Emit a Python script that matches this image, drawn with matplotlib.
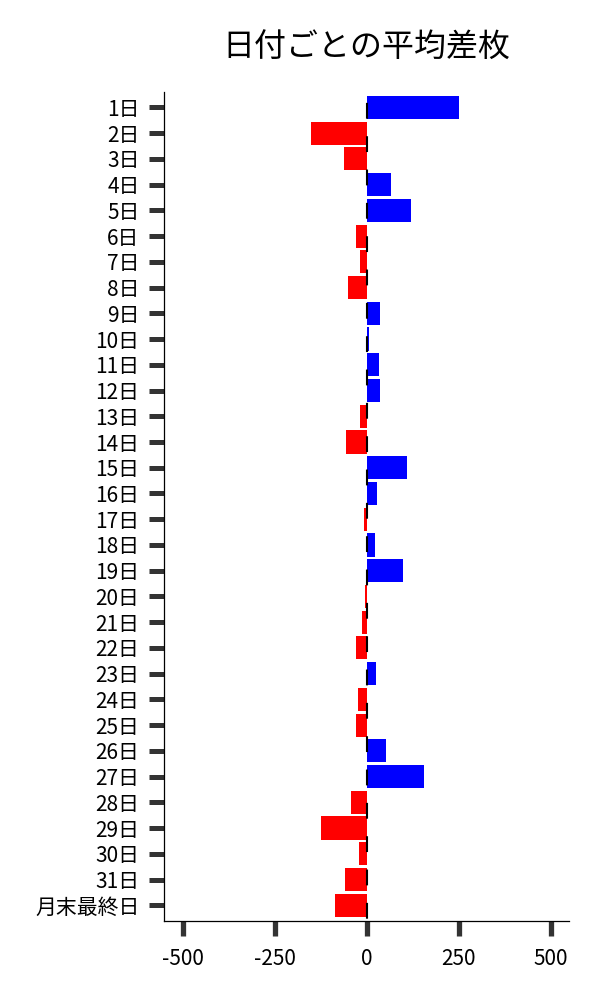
import matplotlib
matplotlib.use("Agg")
import matplotlib.pyplot as plt

plt.rcParams['font.family'] = ['Noto Sans CJK JP', 'DejaVu Sans']

days = [f"{i}日" for i in range(1, 32)] + ["月末最終日"]
values = [250, -152, -62, 65, 119, -30, -19, -52, 35, 6,
          32, 37, -19, -57, 110, 27, -8, 22, 97, -4,
          -12, -30, 24, -24, -30, 53, 154, -43, -125, -22,
          -60, -87]
xticks = [-500, -250, 0, 250, 500]
xticklabels = ["-500", "-250", "0", "250", "500"]
title = "日付ごとの平均差枚"

colors = ["#0000ff" if v >= 0 else "#ff0000" for v in values]

fig = plt.figure(figsize=(6, 10), dpi=100)
ax = fig.add_axes([0.2738, 0.0793, 0.6745, 0.8287])

pos = list(range(len(days)))
ax.barh(pos, values, height=0.9, color=colors, zorder=2)
ax.axvline(0, color="black", lw=1.5, linestyle=(14.9, (7.6, 8.4)), zorder=3)

ax.set_ylim(len(days) - 1 + 0.6, -0.6)
ax.set_xlim(-550, 549)
ax.set_yticks(pos)
ax.set_yticklabels(days)
ax.set_xticks(xticks)
ax.set_xticklabels(xticklabels)

for s in ["top", "right"]:
    ax.spines[s].set_visible(False)
for s in ["left", "bottom"]:
    ax.spines[s].set_linewidth(0.9)
    ax.spines[s].set_color("black")

ax.tick_params(axis="y", length=10.8, width=3.6, color="#333333", pad=7, labelsize=15)
ax.tick_params(axis="x", length=10.5, width=3.8, color="#333333", pad=9, labelsize=15)

fig.text(0.611, 0.952, title, ha="center", va="center", fontsize=23)

fig.savefig("out.png", dpi=100)
